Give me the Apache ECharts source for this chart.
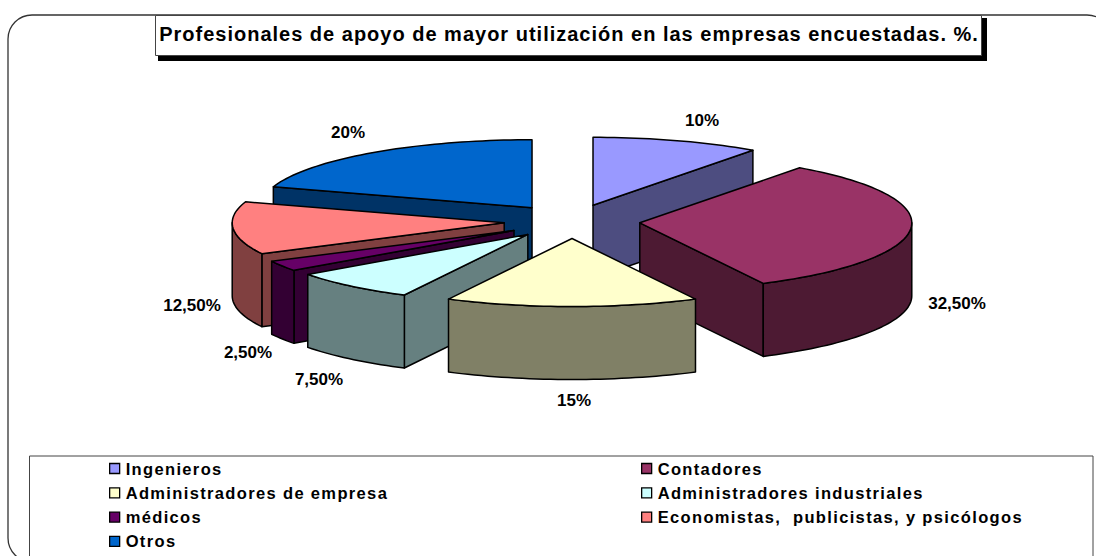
<!DOCTYPE html>
<html>
<head>
<meta charset="utf-8">
<title>Profesionales de apoyo</title>
<script src="https://cdn.jsdelivr.net/npm/echarts@6/dist/echarts.min.js"></script>
<style>
  html, body { margin: 0; padding: 0; background: #fff; }
  #chart { width: 1096px; height: 556px; }
  /* el original tiene las letras mas separadas */
  #chart text[style*="20px"] { letter-spacing: 1px; }
  #chart text[style*="16.5px"] { letter-spacing: 1.35px; }
</style>
</head>
<body>
<div id="chart"></div>
<script>
const chartTitle = 'Profesionales de apoyo de mayor utilización en las empresas encuestadas. %.'
const categories = ['Ingenieros', 'Contadores', 'Administradores de empresa', 'Administradores industriales', 'médicos', 'Economistas,  publicistas, y psicólogos', 'Otros']
const shares = [10, 32.5, 15, 7.5, 2.5, 12.5, 20]
const dataLabels = ['10%', '32,50%', '15%', '7,50%', '2,50%', '12,50%', '20%']
const topColors = ['#9999FF', '#993366', '#FFFFCC', '#CCFFFF', '#660066', '#FF8080', '#0066CC']
const sideColors = ['#4D4D80', '#4D1A33', '#808066', '#668080', '#330033', '#804040', '#003366']

// 3d pie projection
const pie = { cx: 572, cy: 221.5, rx: 272, ry: 68, depth: 73, explode: 0.25 }
// painter order, back to front
const drawOrder = [0, 6, 5, 4, 3, 1, 2]
const labelCenters = [[702, 120], [957, 303], [574, 400], [319, 379], [248, 352], [192, 305], [348, 132]]

const rad = (deg) => (deg * Math.PI) / 180
const total = shares.reduce((a, b) => a + b, 0)

function pointAt(center, deg, dropped) {
  return [
    center[0] + pie.rx * Math.sin(rad(deg)),
    center[1] - pie.ry * Math.cos(rad(deg)) + (dropped ? pie.depth : 0)
  ]
}

function arcPoints(center, from, to, dropped) {
  const pts = []
  const steps = Math.max(2, Math.ceil((to - from) / 1.5))
  for (let i = 0; i <= steps; i++) {
    pts.push(pointAt(center, from + ((to - from) * i) / steps, dropped))
  }
  return pts
}

function poly(points, fill) {
  return {
    type: 'polygon',
    shape: { points },
    style: { fill, stroke: '#000', lineWidth: 1.5, lineJoin: 'round' }
  }
}

function renderSlice(params, api) {
  const value = api.value(0)
  const before = api.value(1)
  const idx = api.value(2)
  const start = (before / total) * 360
  const end = ((before + value) / total) * 360
  const mid = (start + end) / 2
  const center = [
    pie.cx + pie.explode * pie.rx * Math.sin(rad(mid)),
    pie.cy - pie.explode * pie.ry * Math.cos(rad(mid))
  ]
  const bottomCenter = [center[0], center[1] + pie.depth]
  const children = []

  // caras radiales visibles
  const faces = []
  if (end > 0 && end < 180) faces.push(end)
  if (start > 180 && start < 360) faces.push(start)
  faces.forEach((deg) => {
    children.push(poly([center, pointAt(center, deg), pointAt(center, deg, true), bottomCenter], sideColors[idx]))
  })

  // pared exterior (mitad frontal)
  const a0 = Math.max(start, 90)
  const a1 = Math.min(end, 270)
  if (a1 > a0) {
    const wall = arcPoints(center, a0, a1).concat(arcPoints(center, a0, a1, true).reverse())
    children.push(poly(wall, sideColors[idx]))
  }

  // tapa
  children.push(poly([center].concat(arcPoints(center, start, end)), topColors[idx]))

  children.push({
    type: 'text',
    x: labelCenters[idx][0],
    y: labelCenters[idx][1],
    style: {
      text: dataLabels[idx],
      align: 'center',
      verticalAlign: 'middle',
      font: 'bold 17px "Liberation Sans", Arial, sans-serif',
      fill: '#000'
    }
  })
  return { type: 'group', children }
}

const legendText = {
  fontFamily: '"Liberation Sans", Arial, sans-serif',
  fontWeight: 'bold',
  fontSize: 16.5,
  color: '#000',
  padding: [0, 0, 0, 1]
}

function buildLegend(left, names) {
  return {
    orient: 'vertical',
    left,
    top: 460,
    padding: 0,
    itemWidth: 10,
    itemHeight: 10,
    itemGap: 7.3,
    icon: 'rect',
    selectedMode: false,
    textStyle: legendText,
    itemStyle: { borderColor: '#000', borderWidth: 1.3 },
    data: names
  }
}

let running = 0
const cumulative = shares.map((v) => {
  const before = running
  running += v
  return before
})

const chart = echarts.init(document.getElementById('chart'), null, { renderer: 'svg' })
chart.setOption({
  animation: false,
  backgroundColor: '#fff',
  legend: [
    buildLegend(109, categories.filter((c, i) => i % 2 === 0)),
    buildLegend(641, categories.filter((c, i) => i % 2 === 1))
  ],
  graphic: [
    // marco exterior redondeado
    { type: 'rect', z: -10, shape: { x: 8, y: 15, width: 1103, height: 547, r: 24 }, style: { fill: '#fff', stroke: '#333', lineWidth: 1.3 } },
    // caja de la leyenda
    { type: 'rect', z: -9, shape: { x: 29.5, y: 456, width: 1063.5, height: 110 }, style: { fill: '#fff', stroke: '#444', lineWidth: 1 } },
    // titulo con sombra
    { type: 'rect', z: -8, shape: { x: 158, y: 18, width: 829, height: 43 }, style: { fill: '#000' } },
    { type: 'rect', z: -7, shape: { x: 155.5, y: 15.5, width: 826, height: 40 }, style: { fill: '#fff', stroke: '#444', lineWidth: 1 } },
    { type: 'text', z: -6, x: 569, y: 34, style: { text: chartTitle, align: 'center', verticalAlign: 'middle', font: 'bold 20px "Liberation Sans", Arial, sans-serif', fill: '#000' } }
  ],
  series: drawOrder.map((idx, order) => ({
    type: 'custom',
    name: categories[idx],
    coordinateSystem: 'none',
    silent: true,
    z: 2 + order,
    itemStyle: { color: topColors[idx] },
    renderItem: renderSlice,
    data: [[shares[idx], cumulative[idx], idx]]
  }))
})
</script>
</body>
</html>
